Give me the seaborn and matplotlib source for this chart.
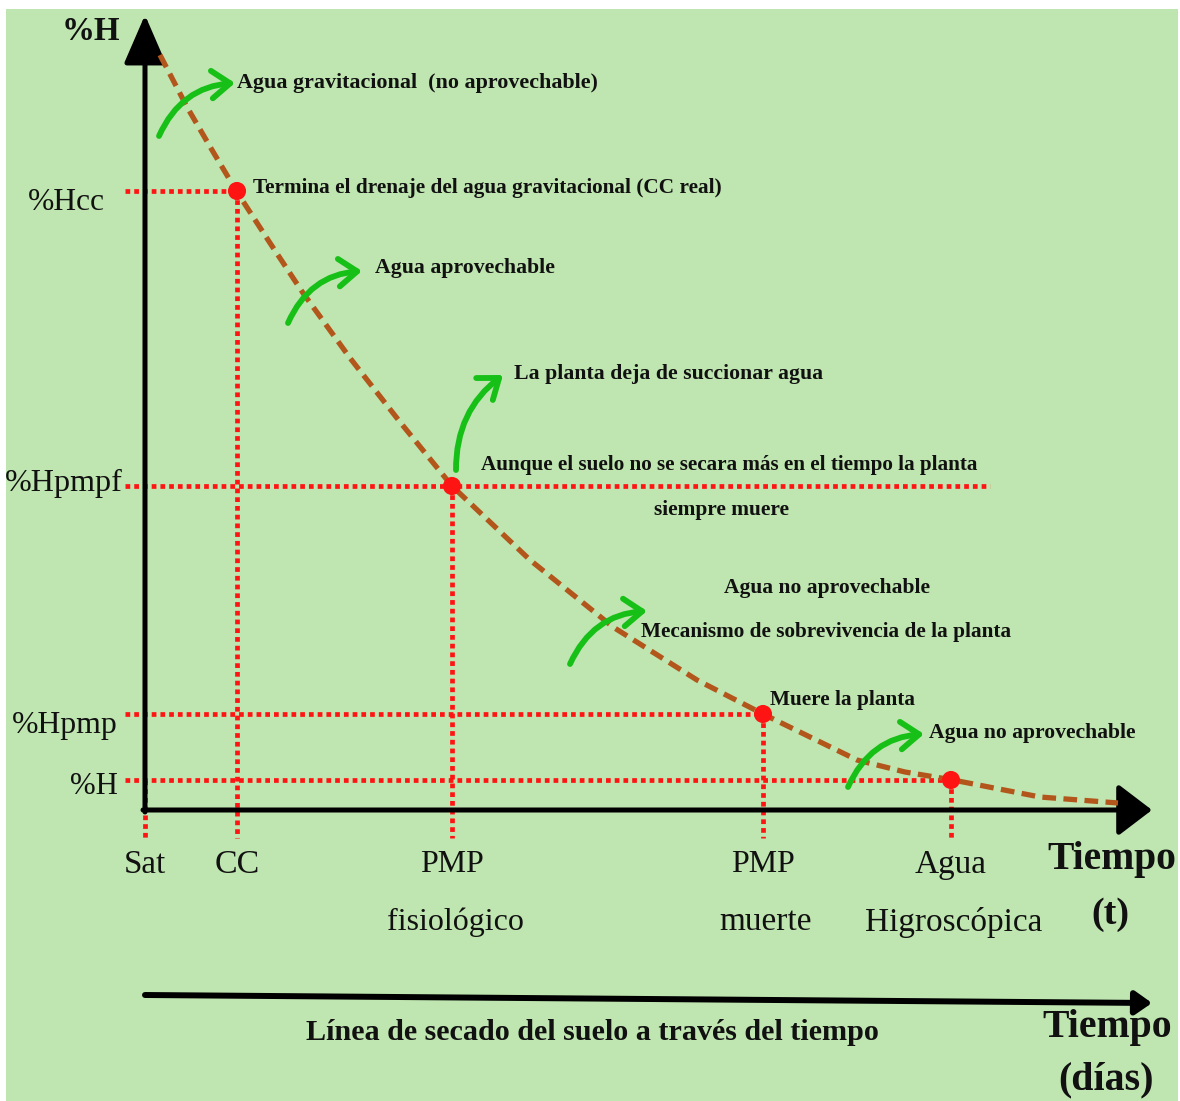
import matplotlib
matplotlib.use("Agg")
import matplotlib.pyplot as plt
import seaborn as sns
import pandas as pd

# ---------------- data (t = time units, h = %H units) ----------------
curve_t = [15, 42, 67, 92, 125, 158, 205, 255, 307, 385, 468, 552, 618, 712, 760, 808, 895, 973]
curve_h = [755, 703, 660, 618, 567, 517, 452, 388, 324, 250, 183, 130, 96, 50, 38, 30, 13, 7]

level_labels = ["%Hcc", "%Hpmpf", "%Hpmp", "%H"]
level_h = [619, 324, 96, 30]

time_labels = ["Sat", "CC", "PMP\nfisiológico", "PMP\nmuerte", "Agua\nHigroscópica"]
time_t = [0, 92, 307, 618, 806]

marker_t = [92, 307, 618, 806]
marker_h = [619, 324, 96, 30]

# ---------------- style ----------------
sns.set_theme(style="white")
plt.rcParams["font.family"] = ["Liberation Serif", "DejaVu Serif"]

BG = "#bfe6b0"
RED = "#ff1414"
BROWN = "#b3561c"
GREEN = "#17c017"
INK = "#111111"

fig = plt.figure(figsize=(11.8, 11.01), dpi=100)
fig.patch.set_facecolor("white")
ax = fig.add_axes([6 / 1180, 0, 1172 / 1180, 1092 / 1101])
ax.set_xlim(-139, 1033)
ax.set_ylim(-291, 801)
ax.set_facecolor(BG)
ax.set_xticks([])
ax.set_yticks([])
for s in ax.spines.values():
    s.set_visible(False)

dot = (0, (1.0, 0.85))
dlw = 3.4

# red dotted reference lines
h_end = [time_t[1], 845, time_t[3], time_t[4]]
for h, xe in zip(level_h, h_end):
    ax.plot([-20, xe], [h, h], color=RED, lw=dlw, linestyle=dot,
            solid_capstyle="butt", dash_capstyle="butt", zorder=2)
v_top = [level_h[3]] + marker_h
for t, yt in zip(time_t, v_top):
    ax.plot([t, t], [yt, -28], color=RED, lw=dlw, linestyle=dot,
            dash_capstyle="butt", zorder=2)

# axes arrows (black)
ax.annotate("", xy=(0, 795), xytext=(0, -2),
            arrowprops=dict(arrowstyle="-|>,head_length=30,head_width=13",
                            mutation_scale=1, lw=3.6, color="black",
                            shrinkA=0, shrinkB=0), zorder=3)
ax.annotate("", xy=(1007, 0), xytext=(-2, 0),
            arrowprops=dict(arrowstyle="-|>,head_length=21,head_width=16",
                            mutation_scale=1, lw=3.6, color="black",
                            shrinkA=0, shrinkB=0), zorder=3)
ax.annotate("", xy=(1007, -193), xytext=(0, -185),
            arrowprops=dict(arrowstyle="-|>,head_length=10,head_width=7",
                            mutation_scale=1, lw=4.3, color="black",
                            shrinkA=0, shrinkB=0), zorder=3)

# drying curve
df = pd.DataFrame({"t": curve_t, "h": curve_h})
sns.lineplot(data=df, x="t", y="h", ax=ax, color=BROWN, lw=3.8, sort=False,
             linestyle=(0, (2.6, 1.4)), zorder=4)

# red markers
sns.scatterplot(x=marker_t, y=marker_h, ax=ax, color=RED, s=170,
                edgecolor="none", zorder=5)

ax.set_xlim(-139, 1033)
ax.set_ylim(-291, 801)
ax.set_xlabel("")
ax.set_ylabel("")

# green curved arrows
green_arrows = [((14, 674), (90, 727), -0.3),
                ((143, 487), (217, 539), -0.3),
                ((311, 340), (358, 435), -0.25),
                ((425, 146), (502, 199), -0.3),
                ((703, 23), (779, 76), -0.3)]
for st, en, rad in green_arrows:
    ax.annotate("", xy=en, xytext=st,
                arrowprops=dict(arrowstyle="->,head_length=0.6,head_width=0.45",
                                connectionstyle=f"arc3,rad={rad}",
                                mutation_scale=22, lw=4.2, color=GREEN,
                                shrinkA=0, shrinkB=0), zorder=6)

texts = []  # (text object, target width px)

def T(x, y, s, w, ha="left", bold=True, size=20, k=None):
    t = ax.text(x, y, s, ha=ha, va="center", color=INK, fontsize=size,
                fontweight="bold" if bold else "normal", zorder=7)
    if k is None:
        k = 1.06 if bold else 1.03
    texts.append((t, w * k))
    return t

# bold annotations
T(-25, 779, "%H", 52, ha="right", size=28, k=1.12)
T(92, 727, "Agua gravitacional  (no aprovechable)", 339)
T(108, 622, "Termina el drenaje del agua gravitacional (CC real)", 455, k=1.03)
T(230, 542, "Agua aprovechable", 169)
T(369, 436, "La planta deja de succionar agua", 290)
T(336, 345, "Aunque el suelo no se secara más en el tiempo la planta", 482, k=1.03)
T(577, 300, "siempre muere", 128, ha="center")
T(682, 222, "Agua no aprovechable", 194, ha="center")
T(681, 178, "Mecanismo de sobrevivencia de la planta", 358, ha="center", k=1.04)
T(625, 110, "Muere la planta", 137)
T(784, 77, "Agua no aprovechable", 195)
T(967, -50, "Tiempo", 122, ha="center", size=28)
T(965, -105, "(t)", 36, ha="center", size=28)
T(447, -223, "Línea de secado del suelo a través del tiempo", 558, ha="center", k=1.03)
T(962, -217, "Tiempo", 122, ha="center")
T(961, -270, "(días)", 90, ha="center")

# level labels (y side)
lvl_w = [77, 118, 106, 48]
lvl_y = [607, 327, 85, 23]
lvl_x = [-40, -22, -27, -27]
for lab, x, y, w in zip(level_labels, lvl_x, lvl_y, lvl_w):
    T(x, y, lab, w, ha="right", bold=False, size=26, k=1.0)

# time labels (x side)
first_w = [41, 44, 62, 62, 70]
for lab, t, w in zip(time_labels, time_t, first_w):
    lines = lab.split("\n")
    T(t, -55, lines[0], w, ha="center", bold=False, size=26)
second_w = {2: 133, 3: 90, 4: 172}
for i, w in second_w.items():
    T(time_t[i] + 3, -112, time_labels[i].split("\n")[1], w, ha="center",
      bold=False, size=26)

# fit text widths to the reference
fig.canvas.draw()
r = fig.canvas.get_renderer()
for t, w in texts:
    cur = t.get_window_extent(r).width
    t.set_fontsize(t.get_fontsize() * w / cur)

fig.savefig("out.png", dpi=100, facecolor=fig.get_facecolor())
